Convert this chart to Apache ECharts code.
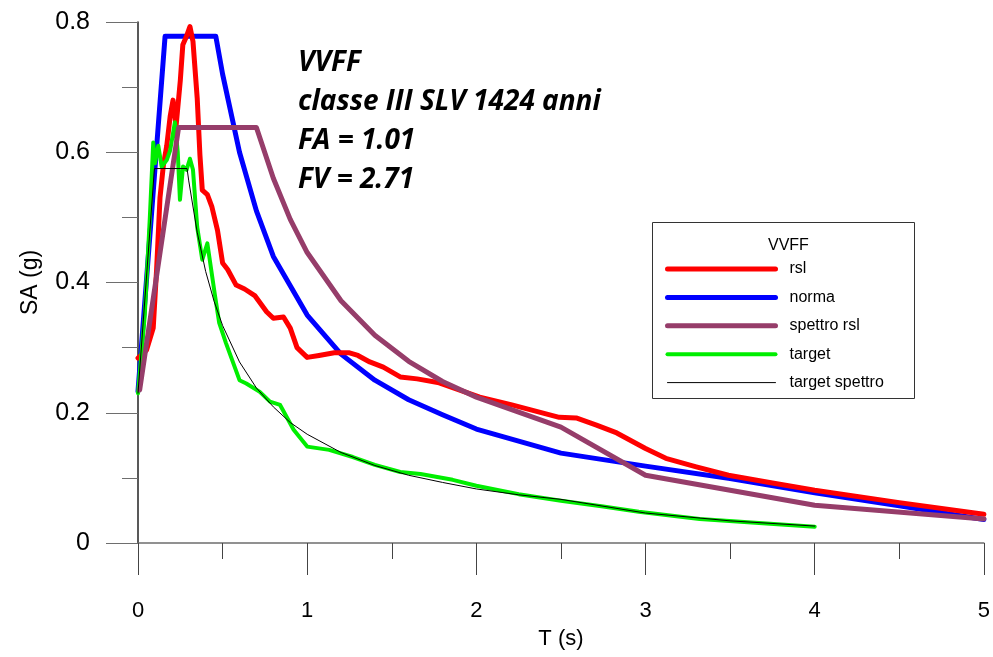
<!DOCTYPE html>
<html><head><meta charset="utf-8">
<script src="https://cdn.jsdelivr.net/npm/echarts@6/dist/echarts.min.js"></script>
<style>html,body{margin:0;padding:0;background:#fff}#c{width:993px;height:657px}</style>
</head><body><div id="c"></div>
<script>
// Period T (s) / spectral acceleration SA (g) pairs
const rsl = [[0,0.284],[0.05,0.296],[0.09,0.33],[0.11,0.42],[0.13,0.53],[0.15,0.58],[0.17,0.61],[0.19,0.655],[0.207,0.68],[0.225,0.64],[0.25,0.71],[0.265,0.765],[0.285,0.777],[0.307,0.793],[0.325,0.77],[0.35,0.683],[0.366,0.596],[0.38,0.542],[0.41,0.535],[0.437,0.516],[0.47,0.48],[0.5,0.43],[0.53,0.42],[0.58,0.396],[0.63,0.39],[0.69,0.38],[0.76,0.355],[0.8,0.345],[0.86,0.347],[0.9,0.33],[0.94,0.30],[1.0,0.285],[1.07,0.288],[1.16,0.292],[1.25,0.292],[1.3,0.288],[1.37,0.278],[1.45,0.27],[1.55,0.255],[1.65,0.252],[1.78,0.246],[2.02,0.224],[2.21,0.212],[2.49,0.193],[2.59,0.192],[2.71,0.181],[2.83,0.169],[3.0,0.145],[3.12,0.13],[3.3,0.117],[3.49,0.104],[3.75,0.092],[4.0,0.081],[4.5,0.062],[5.0,0.044]];
const norma = [[0,0.233],[0.16,0.778],[0.46,0.778],[0.5,0.72],[0.6,0.6],[0.7,0.51],[0.8,0.44],[1.0,0.35],[1.2,0.29],[1.4,0.25],[1.6,0.22],[1.8,0.197],[2.0,0.175],[2.5,0.138],[3.0,0.118],[3.5,0.099],[4.0,0.077],[4.5,0.057],[5.0,0.036]];
const spettroRsl = [[0.01,0.235],[0.24,0.638],[0.7,0.638],[0.8,0.56],[0.9,0.497],[1.0,0.446],[1.2,0.372],[1.4,0.319],[1.6,0.279],[1.8,0.248],[2.0,0.224],[2.5,0.178],[3.0,0.104],[4.0,0.058],[5.0,0.037]];
const target = [[0,0.23],[0.04,0.35],[0.07,0.5],[0.09,0.615],[0.1,0.583],[0.12,0.61],[0.14,0.578],[0.17,0.588],[0.19,0.603],[0.218,0.646],[0.235,0.6],[0.248,0.527],[0.266,0.578],[0.287,0.573],[0.307,0.59],[0.325,0.573],[0.35,0.485],[0.38,0.435],[0.41,0.46],[0.455,0.38],[0.48,0.338],[0.52,0.307],[0.6,0.25],[0.64,0.245],[0.72,0.232],[0.78,0.217],[0.84,0.212],[0.92,0.174],[1.0,0.148],[1.13,0.143],[1.27,0.132],[1.4,0.12],[1.55,0.109],[1.67,0.106],[1.86,0.097],[2.0,0.088],[2.25,0.075],[2.5,0.065],[2.75,0.056],[2.96,0.048],[3.32,0.037],[4.0,0.025]];
const targetSpettro = [[0,0.23],[0.097,0.575],[0.29,0.575],[0.3,0.556],[0.35,0.477],[0.4,0.417],[0.45,0.371],[0.5,0.334],[0.6,0.278],[0.7,0.238],[0.8,0.209],[0.9,0.185],[1.0,0.167],[1.2,0.139],[1.4,0.119],[1.6,0.104],[1.8,0.093],[2.0,0.083],[2.25,0.074],[2.5,0.067],[3.0,0.046],[3.5,0.034],[4.0,0.026]];

const seriesNames = ['rsl','norma','spettro rsl','target','target spettro'];
const legendTitle = 'VVFF';
const noteLines = ['VVFF','classe III SLV 1424 anni','FA = 1.01','FV = 2.71'];
const xTitle = 'T (s)', yTitle = 'SA (g)';

const chart = echarts.init(document.getElementById('c'), null, {renderer:'canvas'});
const axisCol = '#6e6e6e';
const F = '"Liberation Sans", Arial, sans-serif';
const colors = ['#ff0000','#0000ff','#963d6a','#00ee00','#000000'];
const widths = [5,5,5,4,1];
function line(i, data, z){
  return {name:seriesNames[i], type:'line', data, symbol:'none', smooth:false, z,
    lineStyle:{color:colors[i], width:widths[i], cap:'round', join:'round'}, itemStyle:{color:colors[i]}};
}
chart.setOption({
  animation:false,
  backgroundColor:'#fff',
  grid:{left:138, right:8, top:22, bottom:114, containLabel:false},
  xAxis:{type:'value', min:0, max:5, interval:1,
    name:xTitle, nameLocation:'middle', nameGap:85,
    nameTextStyle:{fontFamily:F, fontSize:22, color:'#000'},
    axisLine:{onZero:false, lineStyle:{color:axisCol, width:1.5}},
    axisTick:{show:true, length:32, lineStyle:{color:'#444', width:1}},
    minorTick:{show:true, splitNumber:2, length:16, lineStyle:{color:'#444', width:1}},
    axisLabel:{fontFamily:F, fontSize:22, color:'#000', margin:57},
    splitLine:{show:false}},
  yAxis:{type:'value', min:0, max:0.8, interval:0.2,
    name:yTitle, nameLocation:'middle', nameGap:96, nameRotate:90,
    nameTextStyle:{fontFamily:F, fontSize:23, color:'#000'},
    axisLine:{show:true, onZero:false, lineStyle:{color:'#222', width:1.5}},
    axisTick:{show:true, length:32, lineStyle:{color:axisCol, width:1}},
    minorTick:{show:true, splitNumber:2, length:16, lineStyle:{color:axisCol, width:1}},
    axisLabel:{fontFamily:F, fontSize:25, color:'#000', margin:48,
      formatter:v=> v===0 ? '0' : v.toFixed(1)},
    splitLine:{show:false}},
  legend:{orient:'vertical', left:665, top:261, padding:0,
    itemWidth:108, itemHeight:14, itemGap:12.4,
    itemStyle:{opacity:0},
    textStyle:{fontFamily:F, fontSize:16, color:'#000', padding:[0,0,0,9]},
    data:seriesNames.map((n,i)=>({name:n, lineStyle:{width:widths[i], color:colors[i], cap:'round'}}))},
  graphic:[
    {type:'rect', left:652, top:222, shape:{width:262, height:176},
      style:{fill:'#fff', stroke:'#333', lineWidth:1}, z:0},
    {type:'text', left:768, top:238, style:{text:legendTitle, fontFamily:F, fontSize:16, fill:'#000'}},
    {type:'text', left:298, top:44, z:10,
      style:{text:noteLines.join('\n'), fontFamily:'"Open Sans", sans-serif', fontSize:28,
        fontWeight:'bold', fontStyle:'italic', lineHeight:39, fill:'#000'}}
  ],
  series:[
    line(0, rsl, 3),
    line(1, norma, 2),
    line(2, spettroRsl, 5),
    line(3, target, 4),
    line(4, targetSpettro, 6)
  ]
});
</script></body></html>
